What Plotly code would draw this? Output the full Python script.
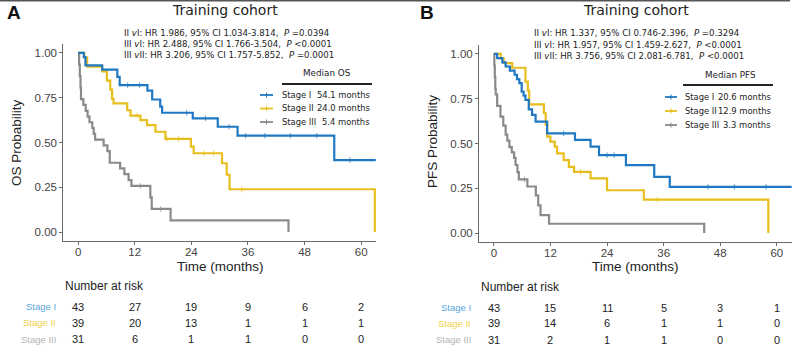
import plotly.graph_objects as go

W, H = 798, 353

# ---------------- data ----------------
stages = ["Stage I", "Stage II", "Stage III"]
colors = ["#1f78c1", "#e8be1c", "#8a8a8a"]
risk_label_colors = ["#5aa6da", "#f0d24a", "#b4b4b4"]

# Panel A : OS
os_t_I = [0, 1.2, 1.55, 5.1, 8.3, 8.8, 14.7, 15.7, 17.4, 17.8, 24.3, 29.6, 33.8, 54.3, 63.1]
os_s_I = [1, 0.977, 0.931, 0.907, 0.866, 0.82, 0.79, 0.74, 0.70, 0.666, 0.635, 0.588, 0.538, 0.402, 0.402]
os_t_II = [0, 1.3, 1.9, 5.1, 6.1, 6.8, 7.2, 7.5, 10.4, 11.1, 13.2, 14.6, 16.4, 18.5, 23.9, 24.5, 30.5, 31.5, 32.1, 62.9]
os_s_II = [1, 0.974, 0.923, 0.897, 0.846, 0.795, 0.744, 0.718, 0.68, 0.65, 0.625, 0.597, 0.56, 0.52, 0.477, 0.44, 0.384, 0.32, 0.239, 0]
os_t_III = [0, 0.2, 0.35, 0.5, 0.6, 1.1, 1.6, 2.0, 2.4, 3.0, 3.3, 3.6, 5.4, 6.2, 6.7, 8.9, 9.8, 10.7, 11.3, 15.3, 15.6, 19.6, 44.6]
os_s_III = [1, 0.935, 0.871, 0.806, 0.742, 0.71, 0.677, 0.645, 0.613, 0.581, 0.548, 0.516, 0.484, 0.452, 0.387, 0.355, 0.323, 0.29, 0.258, 0.194, 0.129, 0.065, 0]
os_cens_I = [10.5, 13.0, 23.0, 27.0, 32.0, 35.5, 39.6, 45.0, 50.6, 57.6]
os_cens_II = [12.5, 18.8, 21.3, 26.6, 28.7, 34.7]
os_cens_III = [13.2, 17.5]

# Panel B : PFS
pfs_t_I = [0, 0.7, 1.8, 2.5, 3.4, 4.4, 4.9, 5.4, 5.9, 6.3, 6.7, 7.4, 8.1, 8.85, 11.3, 17.2, 20.5, 22.3, 28.0, 34.0, 37.3, 63.4]
pfs_s_I = [1, 0.977, 0.953, 0.93, 0.907, 0.884, 0.86, 0.837, 0.79, 0.767, 0.744, 0.69, 0.66, 0.622, 0.557, 0.52, 0.482, 0.435, 0.379, 0.314, 0.258, 0.258]
pfs_t_II = [0, 1.5, 2.1, 3.9, 6.7, 7.2, 7.5, 10.6, 11.0, 11.3, 12.0, 12.9, 13.4, 14.8, 15.9, 17.0, 20.5, 24.0, 31.8, 58.2]
pfs_s_II = [1, 0.974, 0.949, 0.923, 0.846, 0.795, 0.718, 0.669, 0.604, 0.538, 0.51, 0.482, 0.445, 0.407, 0.37, 0.342, 0.305, 0.239, 0.187, 0]
pfs_t_III = [0, 0.1, 0.2, 0.3, 0.4, 0.7, 1.4, 2.0, 2.5, 2.85, 3.3, 3.8, 4.3, 4.6, 5.0, 5.3, 7.1, 8.9, 9.4, 9.9, 11.7, 44.6]
pfs_s_III = [1, 0.935, 0.871, 0.806, 0.774, 0.71, 0.65, 0.60, 0.55, 0.516, 0.48, 0.45, 0.42, 0.38, 0.34, 0.30, 0.26, 0.21, 0.155, 0.10, 0.052, 0]
pfs_cens_I = [14.8, 24.0, 25.5, 45.4, 51.0, 57.7]
pfs_cens_II = [18.4, 34.7]
pfs_cens_III = [6.5]

# Text
medians_os = ["54.1 months", "24.0 months", "5.4 months"]
medians_pfs = ["20.6 months", "12.9 months", "3.3 months"]
hr_os = ["II <i>v</i>I: HR 1.986, 95% CI 1.034-3.814,  <i>P</i> =0.0394",
         "III <i>v</i>I: HR 2.488, 95% CI 1.766-3.504,  <i>P</i> &lt;0.0001",
         "III <i>v</i>II: HR 3.206, 95% CI 1.757-5.852,  <i>P</i> =0.0001"]
hr_pfs = ["II <i>v</i>I: HR 1.337, 95% CI 0.746-2.396,  <i>P</i> =0.3294",
          "III <i>v</i>I: HR 1.957, 95% CI 1.459-2.627,  <i>P</i> &lt;0.0001",
          "III <i>v</i>II: HR 3.756, 95% CI 2.081-6.781,  <i>P</i> &lt;0.0001"]

risk_times = [0, 12, 24, 36, 48, 60]
risk_os = [[43, 27, 19, 9, 6, 2], [39, 20, 13, 1, 1, 1], [31, 6, 1, 1, 0, 0]]
risk_pfs = [[43, 15, 11, 5, 3, 1], [39, 14, 6, 1, 1, 0], [31, 2, 1, 1, 0, 0]]

x_ticks = [0, 12, 24, 36, 48, 60]
y_ticks = [0, 0.25, 0.5, 0.75, 1.0]
y_ticklabels = ["0.00", "0.25", "0.50", "0.75", "1.00"]

# ---------------- figure ----------------
fig = go.Figure()


def step_val(ts, ss, t):
    v = ss[0]
    for ti, si in zip(ts, ss):
        if ti <= t:
            v = si
    return v


panels = [
    ("x", "y", [(os_t_I, os_s_I, os_cens_I), (os_t_II, os_s_II, os_cens_II), (os_t_III, os_s_III, os_cens_III)]),
    ("x2", "y2", [(pfs_t_I, pfs_s_I, pfs_cens_I), (pfs_t_II, pfs_s_II, pfs_cens_II), (pfs_t_III, pfs_s_III, pfs_cens_III)]),
]
for xa, ya, curves in panels:
    for k in [2, 1, 0]:
        ts, ss, cs = curves[k]
        fig.add_trace(go.Scatter(x=ts, y=ss, mode="lines", line=dict(color=colors[k], width=2.2, shape="hv"),
                                 xaxis=xa, yaxis=ya, hoverinfo="skip"))
        fig.add_trace(go.Scatter(x=cs, y=[step_val(ts, ss, c) for c in cs], mode="markers",
                                 marker=dict(symbol="line-ns", size=4, line=dict(color=colors[k], width=1)),
                                 opacity=0.7, xaxis=xa, yaxis=ya, hoverinfo="skip"))

axis_common = dict(showline=True, linecolor="#6a6a6a", linewidth=1, ticks="outside", ticklen=3,
                   tickcolor="#6a6a6a", showgrid=False, zeroline=False,
                   tickfont=dict(family="Liberation Sans", size=11.5, color="#444444"))

fig.update_layout(
    width=W, height=H, margin=dict(l=0, r=0, t=0, b=0),
    paper_bgcolor="white", plot_bgcolor="white", showlegend=False,
    xaxis=dict(domain=[63.3 / W, 376 / W], range=[-3.15, 63.15], tickvals=x_ticks, anchor="y",
               ticklabelstandoff=-3, **axis_common),
    yaxis=dict(domain=[1 - 241 / H, 1 - 44 / H], range=[-0.05, 1.05], tickvals=y_ticks, ticktext=y_ticklabels,
               anchor="x", **axis_common),
    xaxis2=dict(domain=[479 / W, 791.7 / W], range=[-3.15, 63.15], tickvals=x_ticks, anchor="y2",
                ticklabelstandoff=-3, **axis_common),
    yaxis2=dict(domain=[1 - 242 / H, 1 - 45 / H], range=[-0.05, 1.05], tickvals=y_ticks, ticktext=y_ticklabels,
                anchor="x2", **axis_common),
)

ann = []
shapes = []


def A(text, px, py, size, family="DejaVu Sans", color="#222222", xanchor="center", yanchor="middle", **kw):
    ann.append(dict(text=text, x=px / W, y=1 - py / H, xref="paper", yref="paper", showarrow=False,
                    font=dict(family=family, size=size, color=color), xanchor=xanchor, yanchor=yanchor, **kw))


def L(x0, y0, x1, y1, color, width):
    shapes.append(dict(type="line", xref="paper", yref="paper", x0=x0 / W, x1=x1 / W,
                       y0=1 - y0 / H, y1=1 - y1 / H, line=dict(color=color, width=width)))


# top border line
L(0, 0.8, 790, 0.8, "#555555", 1.6)

panel_cfg = [
    dict(letter="A", lx=14, ax_x="x", hr=hr_os, hr_x=122, hr_y=[33, 44, 55], title_x=225,
         med_title="Median OS", med_x=327, med_y=73, ul=(282, 372, 84), leg_glyph=(260, 273), leg_text=280,
         leg_right=372, leg_y=[95, 108.5, 122], meds=medians_os, xt=220, yt_x=17, yt_y=143,
         ytitle="OS Probability", risk=risk_os, rl_x=58, risk_y=[306.7, 322.7, 339.3], nar=(63, 286)),
    dict(letter="B", lx=427, ax_x="x2", hr=hr_pfs, hr_x=532, hr_y=[33, 44.5, 56], title_x=636,
         med_title="Median PFS", med_x=730, med_y=75, ul=(683, 773, 85), leg_glyph=(665, 677), leg_text=683,
         leg_right=773, leg_y=[97, 111, 125], meds=medians_pfs, xt=635, yt_x=432, yt_y=142,
         ytitle="PFS Probability", risk=risk_pfs, rl_x=473, risk_y=[307.7, 323, 339.7], nar=(479, 287)),
]

for p in panel_cfg:
    A("<b>" + p["letter"] + "</b>", p["lx"], 13, 19, family="Liberation Sans", color="#111111")
    A("Training cohort", p["title_x"], 10, 14, family="DejaVu Sans", color="#222222")
    for line, yy in zip(p["hr"], p["hr_y"]):
        A(line, p["hr_x"], yy, 8.6, xanchor="left")
    A(p["med_title"], p["med_x"], p["med_y"], 8.8)
    L(p["ul"][0], p["ul"][2], p["ul"][1], p["ul"][2], "#222222", 2)
    for k in range(3):
        gy = p["leg_y"][k]
        g0, g1 = p["leg_glyph"]
        L(g0, gy, g1, gy, colors[k], 1.8)
        L((g0 + g1) / 2, gy - 2.5, (g0 + g1) / 2, gy + 2.5, colors[k], 1)
        A(stages[k], p["leg_text"], gy, 8.4, xanchor="left")
        A(p["meds"][k], p["leg_right"], gy, 8.4, xanchor="right")
    A("Time (months)", p["xt"], 266, 13.5, family="Liberation Sans", color="#222222")
    A(p["ytitle"], p["yt_x"], p["yt_y"], 13.5, family="Liberation Sans", color="#222222", textangle=-90)
    A("Number at risk", p["nar"][0], p["nar"][1], 12, family="Liberation Sans", xanchor="left")
    for k in range(3):
        ry = p["risk_y"][k]
        A(stages[k], p["rl_x"], ry, 9.5, family="Liberation Sans", color=risk_label_colors[k], xanchor="right")
        for t, v in zip(risk_times, p["risk"][k]):
            ann.append(dict(text=str(v), x=t, xref=p["ax_x"], y=1 - ry / H, yref="paper", showarrow=False,
                            font=dict(family="Liberation Sans", size=11, color="#222222"),
                            xanchor="center", yanchor="middle"))

fig.update_layout(annotations=ann, shapes=shapes)
fig.write_html("out.html")
